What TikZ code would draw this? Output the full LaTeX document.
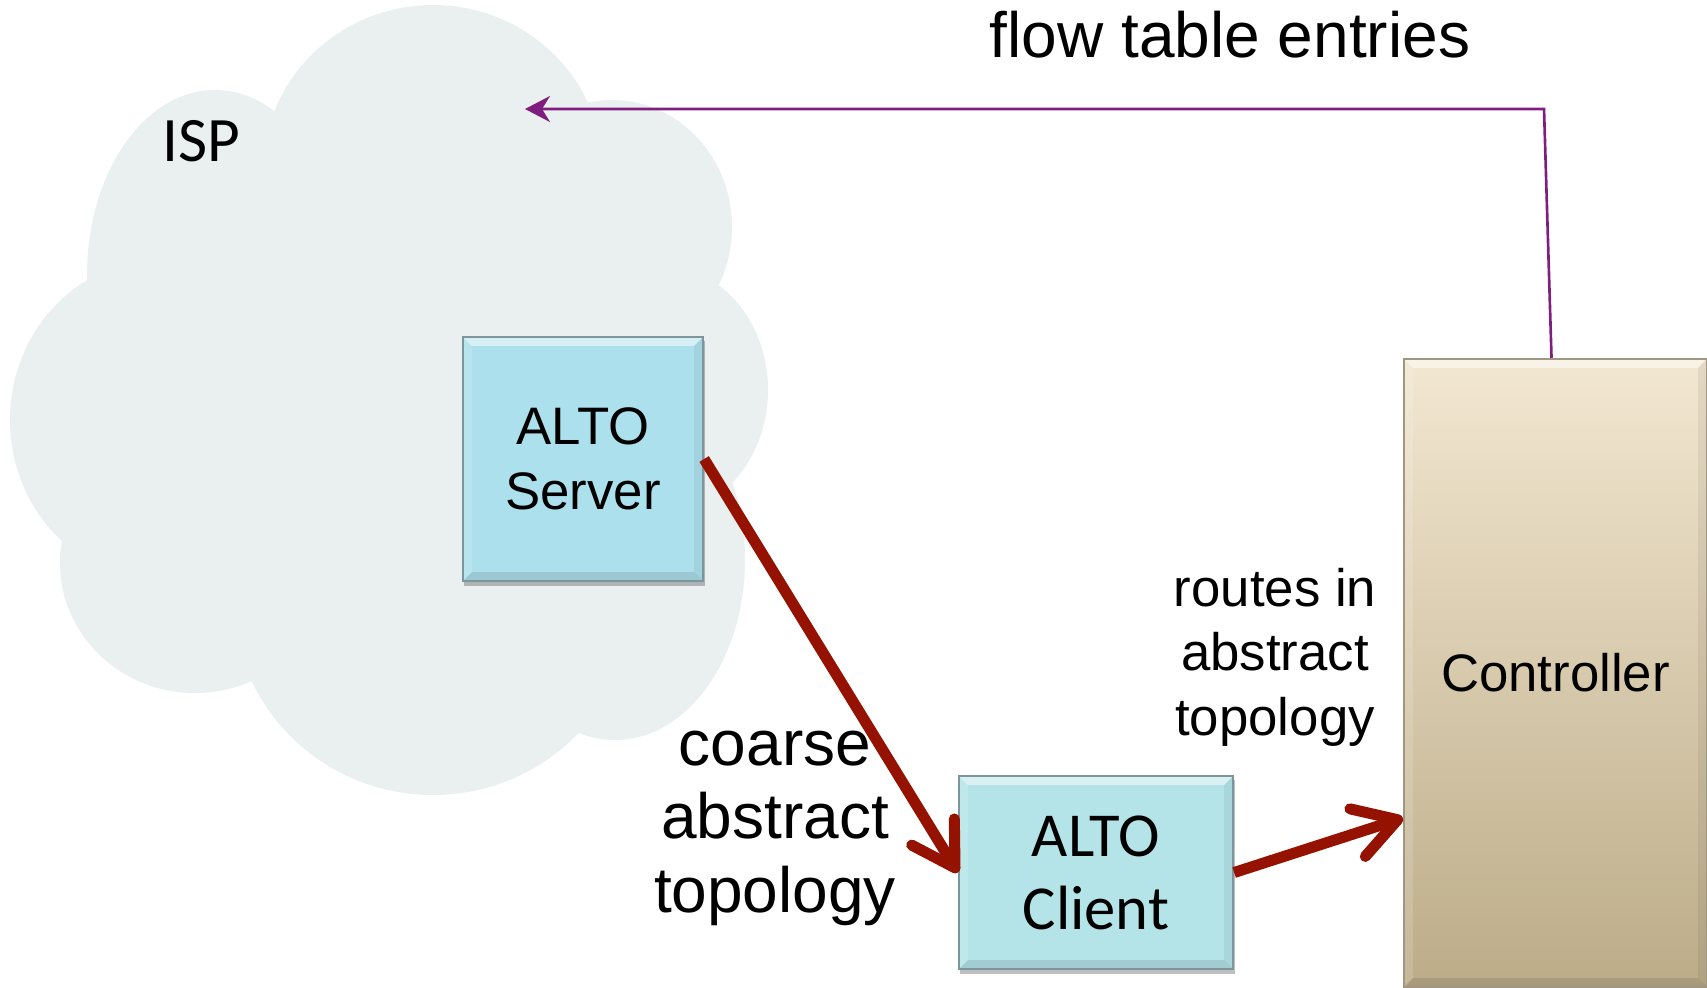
\documentclass[tikz,border=0pt]{standalone}
\usepackage{fontspec}
\setmainfont{Liberation Sans}
\newfontfamily\calib{Carlito}
\usetikzlibrary{arrows.meta,shadows,calc}
\definecolor{cloudc}{RGB}{234,240,240}
\definecolor{serverc}{RGB}{172,224,236}
\definecolor{clientc}{RGB}{180,228,232}
\definecolor{ctrltop}{RGB}{242,231,209}
\definecolor{ctrlbot}{RGB}{188,172,136}
\definecolor{redc}{RGB}{150,18,0}
\definecolor{purc}{RGB}{128,30,128}
\definecolor{boxline}{RGB}{125,150,158}
\definecolor{ctrlline}{RGB}{160,150,130}
\newcommand\fbig{\fontsize{18.2}{20.9}\selectfont}
\newcommand\fmid{\fontsize{15.0}{18.3}\selectfont}
\newcommand\fcal{\calib\fontsize{17.8}{20.8}\selectfont}
\tikzset{
  bevel/.style={path picture={
    \fill[white,opacity=0.5] (path picture bounding box.north west) -- (path picture bounding box.north east)
      -- ([xshift=-#1,yshift=-#1]path picture bounding box.north east) -- ([xshift=#1,yshift=-#1]path picture bounding box.north west) -- cycle;
    \fill[white,opacity=0.15] (path picture bounding box.north west) -- ([xshift=#1,yshift=-#1]path picture bounding box.north west)
      -- ([xshift=#1,yshift=#1]path picture bounding box.south west) -- (path picture bounding box.south west) -- cycle;
    \fill[black,opacity=0.06] (path picture bounding box.north east) -- (path picture bounding box.south east)
      -- ([xshift=-#1,yshift=#1]path picture bounding box.south east) -- ([xshift=-#1,yshift=-#1]path picture bounding box.north east) -- cycle;
    \fill[black,opacity=0.1] (path picture bounding box.south west) -- (path picture bounding box.south east)
      -- ([xshift=-#1,yshift=#1]path picture bounding box.south east) -- ([xshift=#1,yshift=#1]path picture bounding box.south west) -- cycle;
  }},
  altobox/.style={draw=boxline, line width=0.6pt, inner sep=0pt, align=center,
    drop shadow={shadow xshift=0.015cm, shadow yshift=-0.045cm, opacity=0.25, fill=black}, bevel=0.09cm},
  redarrow/.style={draw=redc, line width=0.11cm, -{Straight Barb[length=0.42cm, width=0.5cm, round]}},
  purarrow/.style={draw=purc, line width=0.75pt, -{Stealth[length=0.25cm, width=0.26cm, inset=0.08cm]}},
  lbl/.style={inner sep=0pt, align=center, anchor=base}
}
\begin{document}
\begin{tikzpicture}[x=0.01cm, y=-0.01cm]
\useasboundingbox (0,0) rectangle (1707,987);
% cloud
\begin{scope}[fill=cloudc]
  \fill (433,171) -- (612,227) -- (660,390) -- (615,560) -- (433,598) -- (195,563) -- (160,420) -- (215,275) -- cycle;
  \fill (433,171) ellipse [x radius=170, y radius=166];
  \fill (612,227) ellipse [x radius=120, y radius=127];
  \fill (660,390) ellipse [x radius=108, y radius=125];
  \fill (615,560) ellipse [x radius=130, y radius=180];
  \fill (433,598) ellipse [x radius=200, y radius=197];
  \fill (195,563) ellipse [x radius=135, y radius=130];
  \fill (160,420) ellipse [x radius=150, y radius=160];
  \fill (215,275) ellipse [x radius=128, y radius=185];
\end{scope}
\node[lbl, font=\calib\fontsize{18}{20}\selectfont] (isp) at (201,161) {ISP};
% boxes
\node[altobox, fill=serverc, font=\fontsize{15.0}{18.5}\selectfont, minimum width=2.4cm, minimum height=2.44cm] (server) at (583,459) {ALTO\\Server};
\node[altobox, fill=clientc, font=\fcal, minimum width=2.74cm, minimum height=1.93cm] (client) at (1096,872.5) {ALTO\\Client};
\node[draw=ctrlline, line width=0.6pt, inner sep=0pt, top color=ctrltop, bottom color=ctrlbot, bevel=0.09cm,
      font=\fmid, minimum width=3.03cm, minimum height=6.28cm] (ctrl) at (1555.5,673) {Controller};
% labels
\node[lbl, font=\fbig] (flow) at (1230,57) {flow table entries};
\node[lbl, font=\fbig] (coarse) at (775,912) {coarse\\abstract\\topology};
\node[lbl, font=\fmid] (routes) at (1275,735) {routes in\\abstract\\topology};
% connectors
\coordinate (cin) at ($(ctrl.north west)!0.73!(ctrl.south west)$);
\coordinate (ctop) at ($(ctrl.north)+(-4,0)$);
\coordinate (bend) at (1544,109);
\coordinate (ftip) at (525,109);
\draw[redarrow] (server.east) -- (client.west);
\draw[redarrow] (client.east) -- (cin);
\draw[purarrow] (ctop) -- (bend) -- (ftip);
\end{tikzpicture}
\end{document}
